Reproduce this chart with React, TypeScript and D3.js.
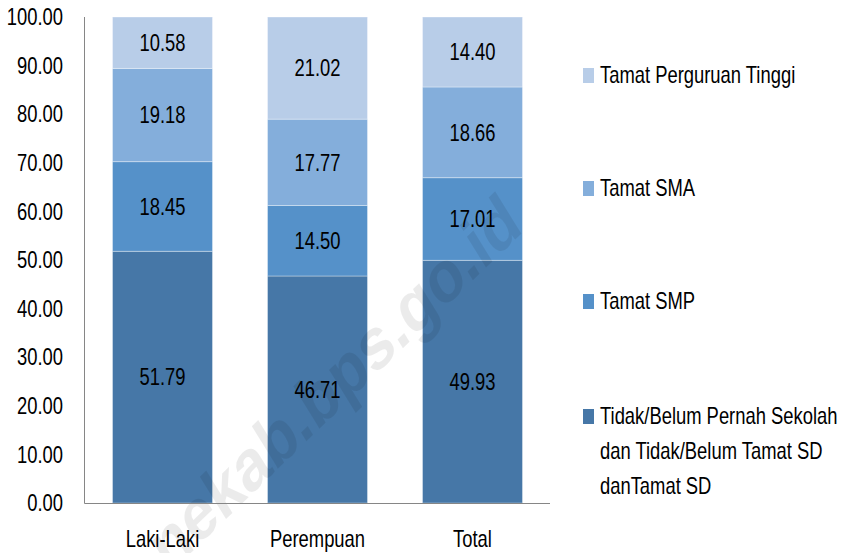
import React, { useEffect, useRef } from 'react';
import * as d3 from 'd3';

const categories = ['Laki-Laki', 'Perempuan', 'Total'];
const sdValues = [51.79, 46.71, 49.93];
const smpValues = [18.45, 14.5, 17.01];
const smaValues = [19.18, 17.77, 18.66];
const ptValues = [10.58, 21.02, 14.4];
const yTicks = [0, 10, 20, 30, 40, 50, 60, 70, 80, 90, 100];
const colors = ['#4677a7', '#5591c9', '#84aedb', '#b8cde8'];
const legendLines = [
  ['Tidak/Belum Pernah Sekolah', 'dan Tidak/Belum Tamat SD', 'danTamat SD'],
  ['Tamat SMP'],
  ['Tamat SMA'],
  ['Tamat Perguruan Tinggi'],
];

const FONT = "'Liberation Sans', Arial, sans-serif";
const SX = 0.8; // narrow the text horizontally (original uses a condensed face)

export default function App() {
  const ref = useRef<SVGSVGElement>(null);

  useEffect(() => {
    const svg = d3.select(ref.current);
    svg.selectAll('*').remove();

    const left = 85, right = 550, top = 17, bottom = 503;

    const rows = categories.map((c, i) => ({
      cat: c,
      s0: sdValues[i],
      s1: smpValues[i],
      s2: smaValues[i],
      s3: ptValues[i],
    }));
    const keys = ['s0', 's1', 's2', 's3'];
    const stacked = d3.stack<any>().keys(keys)(rows);

    const x = d3.scaleBand().domain(categories).range([left, right]).paddingInner(0.355).paddingOuter(0.1775);
    const y = d3.scaleLinear().domain([0, 100]).range([bottom, top]);

    const txt = (sel: any) =>
      sel.style('font-family', FONT)
        .style('font-size', '23px')
        .attr('fill', '#000');
    const place = (px: number, py: number) => `translate(${px},${py}) scale(${SX},1)`;

    const g = svg.append('g');

    stacked.forEach((layer, li) => {
      g.selectAll(`.seg${li}`)
        .data(layer)
        .join('rect')
        .attr('class', `seg${li}`)
        .attr('x', (d: any) => x(d.data.cat)!)
        .attr('width', x.bandwidth())
        .attr('y', (d: any) => y(d[1]))
        .attr('height', (d: any) => y(d[0]) - y(d[1]))
        .attr('fill', colors[li])
        .attr('stroke', 'rgba(255,255,255,0.35)')
        .attr('stroke-width', 1);

      g.selectAll(`.lab${li}`)
        .data(layer)
        .join('text')
        .attr('class', `lab${li}`)
        .attr('transform', (d: any) => place(x(d.data.cat)! + x.bandwidth() / 2, y((d[0] + d[1]) / 2)))
        .attr('dy', '0.36em')
        .attr('text-anchor', 'middle')
        .call(txt)
        .text((d: any) => (d[1] - d[0]).toFixed(2));
    });

    // watermark
    svg.append('text')
      .attr('transform', `translate(168,575) scale(${SX},1) rotate(-37.7)`)
      .style('font-family', FONT)
      .style('font-weight', 'bold')
      .style('font-size', '74px')
      .attr('fill', '#000')
      .attr('fill-opacity', 0.08)
      .text('nekab.bps.go.id');

    // axes
    svg.append('line')
      .attr('x1', left - 0.5).attr('x2', left - 0.5)
      .attr('y1', top).attr('y2', bottom + 0.5)
      .attr('stroke', '#868686').attr('stroke-width', 1);
    svg.append('line')
      .attr('x1', left - 0.5).attr('x2', right)
      .attr('y1', bottom + 0.5).attr('y2', bottom + 0.5)
      .attr('stroke', '#868686').attr('stroke-width', 1);

    svg.selectAll('.ytick')
      .data(yTicks)
      .join('text')
      .attr('class', 'ytick')
      .attr('transform', d => place(63, y(d)))
      .attr('dy', '0.36em')
      .attr('text-anchor', 'end')
      .call(txt)
      .text(d => d.toFixed(2));

    svg.selectAll('.xlab')
      .data(categories)
      .join('text')
      .attr('class', 'xlab')
      .attr('transform', d => place(x(d)! + x.bandwidth() / 2, 547))
      .attr('text-anchor', 'middle')
      .call(txt)
      .text(d => d);

    // legend
    const legendY = [424, 309, 196, 83];
    legendLines.forEach((lines, i) => {
      const lg = svg.append('g');
      lg.append('rect')
        .attr('x', 583).attr('y', legendY[i] - 15)
        .attr('width', 11).attr('height', 15)
        .attr('fill', colors[i]);
      lines.forEach((t, j) => {
        lg.append('text')
          .attr('transform', place(600, legendY[i] + j * 35))
          .call(txt)
          .text(t);
      });
    });
  }, []);

  return (
    <svg
      ref={ref}
      width={846}
      height={553}
      style={{ position: 'absolute', left: 0, top: 0, background: '#fff' }}
    />
  );
}
